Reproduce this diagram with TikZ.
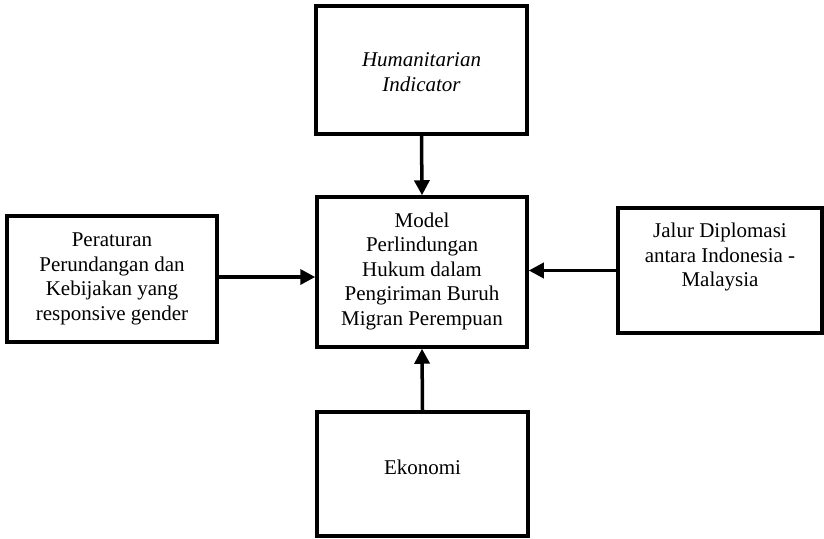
\documentclass[tikz,border=0pt]{standalone}
\usepackage{fontspec}
\setmainfont{Liberation Serif}
\usetikzlibrary{arrows.meta}
\begin{document}
\begin{tikzpicture}[x=1pt,y=-1pt,
  box/.style={draw=black,line width=3.5pt,rectangle,inner sep=0pt},
  txt/.style={align=center,font=\fontsize{21}{24.5}\selectfont,inner sep=0pt},
  conn/.style={line width=3.5pt,-{Triangle[length=15pt,width=15pt]}}]
\useasboundingbox (0,0) rectangle (824,538);
\node[box,minimum width=211pt,minimum height=128pt] (top) at (421.5,70) {};
\node[box,minimum width=210pt,minimum height=150pt] (mid) at (422,272) {};
\node[box,minimum width=210pt,minimum height=126pt] (left) at (112,279) {};
\node[box,minimum width=204pt,minimum height=125pt] (right) at (720,270.5) {};
\node[box,minimum width=211pt,minimum height=124pt] (bot) at (422.5,474) {};
\node[txt,font=\fontsize{21}{24.5}\selectfont\itshape] (toptxt) at (421.5,72) {Humanitarian\\Indicator};
\node[txt] (midtxt) at (422,271) {Model\\Perlindungan\\Hukum dalam\\Pengiriman Buruh\\Migran Perempuan};
\node[txt] (lefttxt) at (112,279) {Peraturan\\Perundangan dan\\Kebijakan yang\\responsive gender};
\node[txt] (righttxt) at (720,257) {Jalur Diplomasi\\antara Indonesia -\\Malaysia};
\node[txt] (bottxt) at (422.5,467) {Ekonomi};
\draw[conn] (top.south) -- (mid.north);
\draw[conn] (bot.north) -- (mid.south);
\draw[conn] (left.east |- 0,277) -- (mid.west |- 0,277);
\draw[conn] (right.west) -- (right.west -| mid.east);
\end{tikzpicture}
\end{document}
